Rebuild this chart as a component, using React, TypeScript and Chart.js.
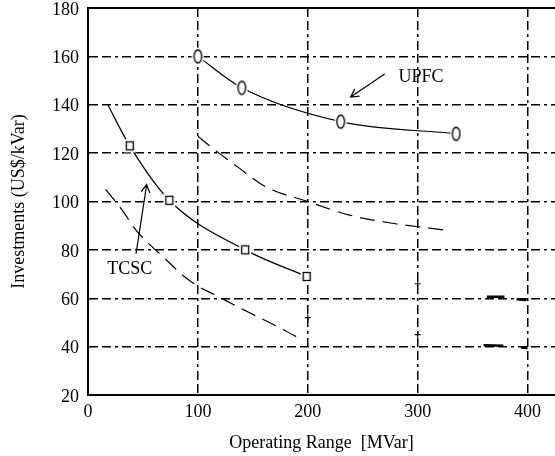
import React, { useEffect, useRef } from 'react';
import { Chart, registerables } from 'chart.js';

Chart.register(...registerables);

// ---- data ----
const upfcX = [100, 140, 230, 335];
const upfcY = [160, 147, 133, 128];

const tcscX = [18, 38, 74, 143, 199];
const tcscY = [140, 123, 100.5, 80, 69];
const tcscMarkerShown = [false, true, true, true, true];

const upperFitX = [100, 115, 137, 162, 200, 237, 277, 316, 328];
const upperFitY = [127, 121.5, 114, 106, 100, 94.5, 91, 88.7, 88];

const lowerFitX = [16, 31, 44, 71, 85, 100, 115, 147, 178, 194];
const lowerFitY = [105, 96.5, 88, 76, 70, 65, 61.5, 54, 47, 43];

// small stray marks in the original figure
const stubStartX = [363, 390, 360, 394];
const stubStartY = [60.6, 59.6, 40.6, 39.6];
const stubEndX = [379, 399, 378, 400];
const stubEndY = [60.6, 59.3, 40.4, 39.4];
const crossX = [200, 300, 300];
const crossY = [52, 66, 45];

const xTickStep = 100;
const yTickStep = 20;
const xMin = 0;
const xMax = 425;
const yMin = 20;
const yMax = 180;

const labelText = ['UPFC', 'TCSC'];
const labelX = [303, 38];
const labelY = [151.5, 72];
const arrowFromX = [270, 43.7];
const arrowFromY = [152.7, 78.4];
const arrowToX = [239, 53.4];
const arrowToY = [143.2, 107];

const xTitle = 'Operating Range  [MVar]';
const yTitle = 'Investments (US$/kVar)';

const FONT = "'Liberation Serif', 'Times New Roman', serif";
const GRID_DASH = [9, 4, 9, 4, 3, 4];

function makeEllipse(): HTMLCanvasElement {
  const c = document.createElement('canvas');
  c.width = 13;
  c.height = 19;
  const g = c.getContext('2d')!;
  g.fillStyle = '#fff';
  g.beginPath();
  g.ellipse(6.5, 9.5, 6, 9, 0, 0, Math.PI * 2);
  g.fill();
  g.strokeStyle = '#000';
  g.lineWidth = 1.3;
  g.beginPath();
  g.ellipse(6.5, 9.5, 3.8, 6.5, 0, 0, Math.PI * 2);
  g.stroke();
  return c;
}

function makeSquare(): HTMLCanvasElement {
  const c = document.createElement('canvas');
  c.width = 14;
  c.height = 15;
  const g = c.getContext('2d')!;
  g.fillStyle = '#fff';
  g.fillRect(1, 1, 12, 13);
  g.strokeStyle = '#000';
  g.lineWidth = 1.3;
  g.strokeRect(3.5, 3.5, 7, 8);
  return c;
}

const zip = (xs: number[], ys: number[]) => xs.map((x, i) => ({ x, y: ys[i] }));

export default function App() {
  const ref = useRef<HTMLCanvasElement | null>(null);

  useEffect(() => {
    if (!ref.current) return;
    const ellipse = makeEllipse();
    const square = makeSquare();

    const stubData: any[] = [];
    stubStartX.forEach((sx, i) => {
      stubData.push({ x: sx, y: stubStartY[i] });
      stubData.push({ x: stubEndX[i], y: stubEndY[i] });
      stubData.push({ x: stubEndX[i], y: null });
    });

    const frame = {
      id: 'frame',
      afterDraw(chart: any) {
        const { ctx, chartArea } = chart;
        ctx.save();
        ctx.strokeStyle = '#000';
        ctx.lineWidth = 2;
        ctx.beginPath();
        ctx.moveTo(chartArea.left - 1, chartArea.top);
        ctx.lineTo(chartArea.right, chartArea.top);
        ctx.stroke();
        ctx.restore();
      },
    };

    const annotations = {
      id: 'annotations',
      afterDatasetsDraw(chart: any) {
        const { ctx } = chart;
        const xs = chart.scales.x;
        const ys = chart.scales.y;
        ctx.save();
        ctx.strokeStyle = '#000';
        ctx.fillStyle = '#000';
        ctx.lineWidth = 1.2;
        arrowFromX.forEach((fx, i) => {
          const x1 = xs.getPixelForValue(fx);
          const y1 = ys.getPixelForValue(arrowFromY[i]);
          const x2 = xs.getPixelForValue(arrowToX[i]);
          const y2 = ys.getPixelForValue(arrowToY[i]);
          ctx.beginPath();
          ctx.moveTo(x1, y1);
          ctx.lineTo(x2, y2);
          const a = Math.atan2(y2 - y1, x2 - x1);
          const L = 9;
          const s = 0.5;
          ctx.moveTo(x2 - L * Math.cos(a - s), y2 - L * Math.sin(a - s));
          ctx.lineTo(x2, y2);
          ctx.lineTo(x2 - L * Math.cos(a + s), y2 - L * Math.sin(a + s));
          ctx.stroke();
        });
        ctx.font = `18px ${FONT}`;
        ctx.textAlign = 'center';
        ctx.textBaseline = 'middle';
        labelText.forEach((t, i) => {
          ctx.fillText(t, xs.getPixelForValue(labelX[i]), ys.getPixelForValue(labelY[i]));
        });
        ctx.restore();
      },
    };

    const chart = new Chart(ref.current, {
      type: 'line',
      data: {
        datasets: [
          {
            label: 'UPFC',
            data: zip(upfcX, upfcY),
            borderColor: '#000',
            borderWidth: 1.2,
            pointStyle: ellipse as any,
            pointRadius: 5,
            cubicInterpolationMode: 'monotone',
            fill: false,
          },
          {
            label: 'TCSC',
            data: zip(tcscX, tcscY),
            borderColor: '#000',
            borderWidth: 1.2,
            pointStyle: square as any,
            pointRadius: tcscMarkerShown.map((v) => (v ? 5 : 0)),
            cubicInterpolationMode: 'monotone',
            fill: false,
          },
          {
            label: 'UPFC fit',
            data: zip(upperFitX, upperFitY),
            borderColor: '#000',
            borderWidth: 1.2,
            borderDash: [15, 8],
            pointRadius: 0,
            cubicInterpolationMode: 'monotone',
            fill: false,
          },
          {
            label: 'TCSC fit',
            data: zip(lowerFitX, lowerFitY),
            borderColor: '#000',
            borderWidth: 1.2,
            borderDash: [15, 8],
            pointRadius: 0,
            cubicInterpolationMode: 'monotone',
            fill: false,
          },
          {
            label: 'marks',
            data: stubData,
            borderColor: '#000',
            borderWidth: 2.5,
            pointRadius: 0,
            spanGaps: false,
            fill: false,
          },
          {
            label: 'crosses',
            data: zip(crossX, crossY),
            showLine: false,
            pointStyle: 'cross',
            pointRadius: 3,
            borderColor: '#000',
            borderWidth: 1.2,
          },
        ] as any,
      },
      options: {
        responsive: false,
        animation: false,
        devicePixelRatio: 1,
        layout: { autoPadding: false, padding: { top: 8, right: 0, left: 0, bottom: 0 } },
        plugins: {
          legend: { display: false },
          tooltip: { enabled: false },
        },
        scales: {
          x: {
            type: 'linear',
            min: xMin,
            max: xMax,
            ticks: {
              stepSize: xTickStep,
              includeBounds: false,
              color: '#000',
              font: { family: FONT, size: 18 },
              padding: 6,
              maxRotation: 0,
            },
            grid: { color: '#000', lineWidth: 1.5, drawTicks: false },
            border: { color: '#000', width: 2, dash: GRID_DASH },
            title: {
              display: true,
              text: xTitle,
              color: '#000',
              font: { family: FONT, size: 18 },
              padding: { top: 0, bottom: 2 },
            },
            afterFit: (s: any) => {
              s.height = 61;
              s.paddingLeft = 0;
              s.paddingRight = 0;
            },
          },
          y: {
            min: yMin,
            max: yMax,
            ticks: {
              stepSize: yTickStep,
              color: '#000',
              font: { family: FONT, size: 18 },
              padding: 9,
              labelOffset: 2,
            },
            grid: { color: '#000', lineWidth: 1.5, drawTicks: false },
            border: { color: '#000', width: 2, dash: GRID_DASH },
            title: {
              display: true,
              text: yTitle,
              color: '#000',
              font: { family: FONT, size: 18 },
              padding: { top: 8, bottom: 0 },
            },
            afterFit: (s: any) => {
              s.width = 88;
              s.paddingTop = 0;
              s.paddingBottom = 0;
            },
          },
        },
      } as any,
      plugins: [frame, annotations],
    });

    return () => chart.destroy();
  }, []);

  return (
    <div style={{ position: 'absolute', left: 0, top: 0, width: 555, height: 456, background: '#fff' }}>
      <canvas ref={ref} width={555} height={456} />
    </div>
  );
}
